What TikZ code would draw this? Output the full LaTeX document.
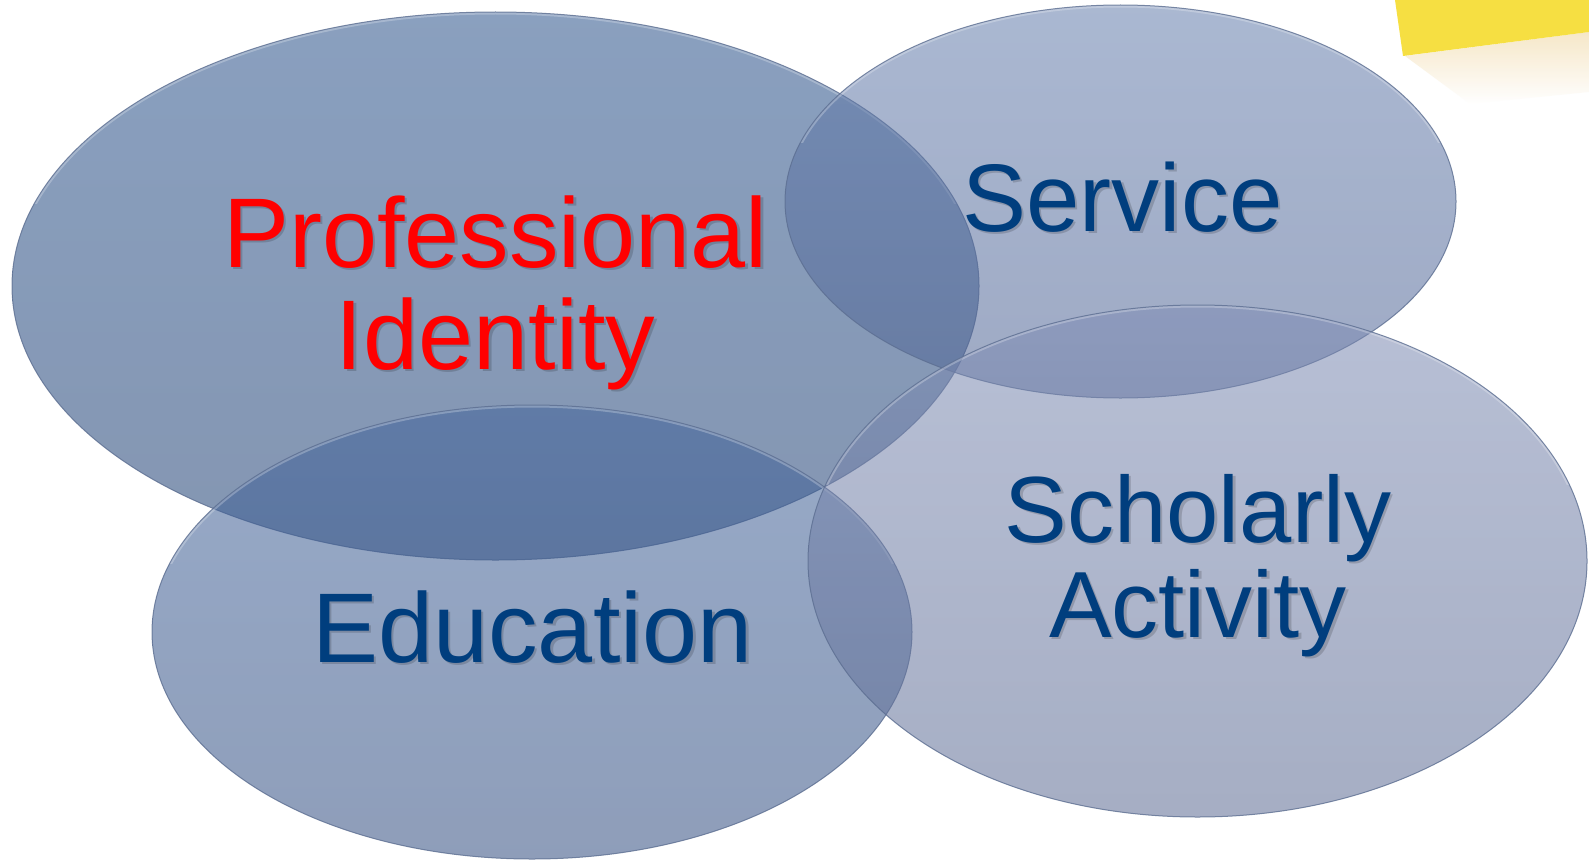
\documentclass[tikz,border=0pt]{standalone}
\usepackage{fontspec}
\setmainfont{Liberation Sans}
\definecolor{pitop}{RGB}{42,82,139}
\definecolor{pibot}{RGB}{31,64,115}
\definecolor{setop}{RGB}{101,126,173}
\definecolor{sebot}{RGB}{79,100,148}
\definecolor{edtop}{RGB}{66,100,155}
\definecolor{edbot}{RGB}{50,78,129}
\definecolor{sctop}{RGB}{126,140,180}
\definecolor{scbot}{RGB}{93,108,148}
\definecolor{rimcol}{RGB}{92,110,145}
\definecolor{txtblue}{RGB}{0,62,126}
\definecolor{txtred}{RGB}{255,0,0}
\definecolor{notecol}{RGB}{246,223,66}
\definecolor{noteshadow}{RGB}{243,222,178}
\newcommand\vennell[6]{%
  \shade[top color=#5, bottom color=#6, fill opacity=0.55] (#1,#2) ellipse [x radius=#3pt, y radius=#4pt];
  \begin{scope}
    \clip (#1,#2) ellipse [x radius=#3pt, y radius=#4pt];
    \clip (#1-#3-5,#2-#4-5) rectangle (#1+#3+5,#2-0.3*#4);
    \draw[white, line width=5pt, opacity=0.25] (#1,#2) ellipse [x radius=#3pt, y radius=#4pt];
  \end{scope}
  \draw[rimcol, line width=1pt, draw opacity=0.8] (#1,#2) ellipse [x radius=#3pt, y radius=#4pt];
}
\tikzset{
  lbl/.style={inner sep=0pt, anchor=base, align=center},
  shd/.style={lbl, text=black, text opacity=0.16}
}
\begin{document}
\begin{tikzpicture}[x=1pt, y=-1pt]
\useasboundingbox (0,0) rectangle (1589,859);
\fill[white] (0,0) rectangle (1589,859);
% sticky note
\shade[top color=noteshadow, bottom color=white, fill opacity=0.7]
  (1405,56) -- (1589,32) -- (1589,92) -- (1470,104) -- cycle;
\fill[notecol] (1395,0) -- (1589,0) -- (1589,32) -- (1403,56) -- cycle;
% ellipses
\vennell{495.5}{286}{483.5}{274}{pitop}{pibot}
\vennell{1120.5}{201.5}{335.5}{196.5}{setop}{sebot}
\vennell{532}{632}{380}{227}{edtop}{edbot}
\vennell{1197.5}{561}{389.5}{256}{sctop}{scbot}
% labels (base anchor of a two-line node is the last line's baseline)
\node[shd, font=\fontsize{99}{102}\selectfont] (pis) at (498,371.5) {Professional\\Identity};
\node[lbl, text=txtred, font=\fontsize{99}{102}\selectfont] (pi) at (495.5,369) {Professional\\Identity};
\node[shd, font=\fontsize{96}{100}\selectfont] (ses) at (1125,233.5) {Service};
\node[lbl, text=txtblue, font=\fontsize{96}{100}\selectfont] (se) at (1122.5,231) {Service};
\node[shd, font=\fontsize{99}{102}\selectfont] (eds) at (535,664.5) {Education};
\node[lbl, text=txtblue, font=\fontsize{99}{102}\selectfont] (ed) at (532.5,662) {Education};
\node[shd, font=\fontsize{94}{95}\selectfont] (scs) at (1200.5,639.5) {Scholarly\\Activity};
\node[lbl, text=txtblue, font=\fontsize{94}{95}\selectfont] (sc) at (1198,637) {Scholarly\\Activity};
\end{tikzpicture}
\end{document}
